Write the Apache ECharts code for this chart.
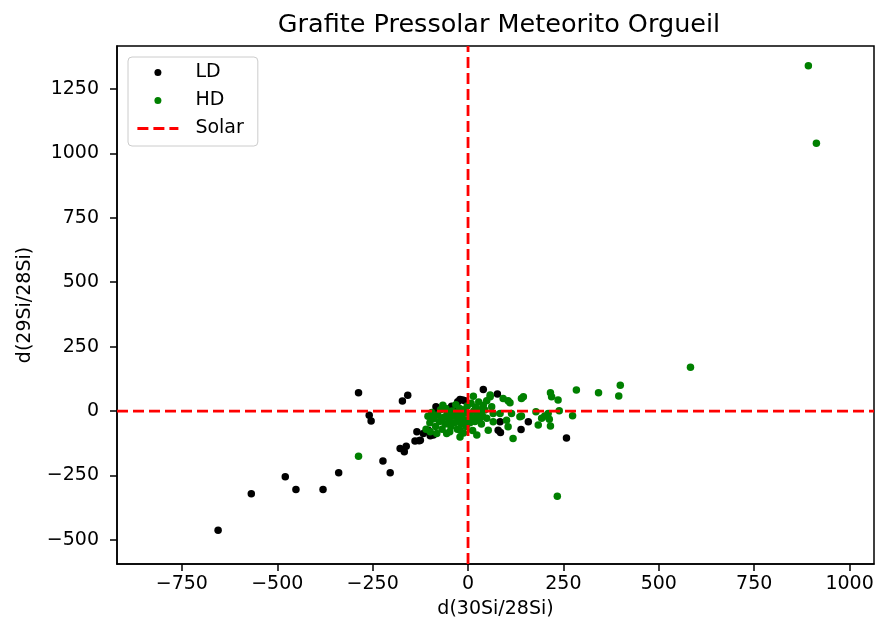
<!DOCTYPE html>
<html>
<head>
<meta charset="utf-8">
<script src="https://cdn.jsdelivr.net/npm/echarts@6/dist/echarts.min.js"></script>
<style>
  html, body { margin: 0; padding: 0; background: #fff; }
  #main { width: 878px; height: 626px; }
</style>
</head>
<body>
<div id="main"></div>
<script>
// dados: [d(30Si/28Si), d(29Si/28Si)]
let ld_data = [
  [-655, -462], [-568, -321], [-479, -255], [-451, -304], [-380, -304],
  [-339, -239], [-287, 71], [-259, -16], [-254, -38], [-223, -194],
  [-204, -239], [-178, -145], [-167, -158], [-162, -136], [-172, 39],
  [-158, 61], [-139, -116], [-128, -115], [-134, -80], [-125, -113],
  [-99, -96], [-91, -93], [-117, -87], [-104, -74], [-84, 17],
  [-82, 4], [-43, 19], [-38, 17], [-27, 36], [-21, 45],
  [-14, 43], [-8, 40], [40, 84], [77, 66], [84, -41],
  [85, -83], [79, -74], [139, -71], [158, -41], [258, -104]
];
let hd_data = [
  [-287, -175], [892, 1339], [913, 1039], [583, 170], [399, 100],
  [395, 59], [342, 71], [284, 82], [216, 71], [219, 56],
  [236, 43], [145, 56], [140, 49], [239, 1], [274, -18],
  [234, -330], [178, -3], [184, -54], [213, -32], [216, -58],
  [210, -9], [201, -19], [193, -28], [140, -19], [136, -22],
  [118, -106], [105, -61], [101, -35], [114, -9], [84, -9],
  [66, -9], [66, -41], [49, -28], [53, -74], [92, 49],
  [105, 40], [110, 32], [58, 56], [58, 62], [14, 58],
  [49, 40], [40, 23], [62, 17], [44, 4], [-66, 23],
  [-105, -20], [-100, -45], [-95, -5], [-90, -30], [-85, -60],
  [-80, -15], [-75, -40], [-72, 5], [-68, -70], [-65, -25],
  [-60, -50], [-58, 10], [-55, -10], [-50, -35], [-48, -80],
  [-45, -60], [-42, 0], [-40, -20], [-35, -45], [-32, 25],
  [-30, -5], [-28, -70], [-25, -30], [-22, 10], [-18, -50],
  [-15, -15], [-12, -85], [-10, 5], [-8, -35], [-5, -60],
  [-2, 20], [2, -10], [5, -45], [8, 30], [10, -25],
  [12, -75], [15, 0], [18, -40], [20, 15], [25, -15],
  [28, 35], [30, -30], [32, 5], [35, -50], [38, -20],
  [-99, -80], [-56, -87], [-21, -74], [-21, -100], [23, -93],
  [-82, -87], [-110, -70]
];
let solar = [0, 0]; // valor solar (x, y)
let x_ticks = [-750, -500, -250, 0, 250, 500, 750, 1000];
let y_ticks = [-500, -250, 0, 250, 500, 750, 1000, 1250];
let x_range = [-920, 1064];
let y_range = [-593, 1416];

let myChart = echarts.init(document.getElementById("main"));
let font = "DejaVu Sans";
let red_line = { color: "#ff0000", width: 2.8, type: [11, 5] };

var option = {
  animation: false,
  backgroundColor: "#fff",
  title: {
    text: "Grafite Pressolar Meteorito Orgueil",
    left: 494,
    textAlign: "center",
    top: 7,
    textStyle: { fontFamily: font, fontSize: 25.5, fontWeight: "normal", color: "#000" },
  },
  legend: {
    orient: "vertical",
    left: 128,
    top: 57,
    padding: [6, 14, 8, 8],
    itemWidth: 41,
    itemHeight: 7,
    itemGap: 9,
    borderColor: "#cccccc",
    borderWidth: 1,
    borderRadius: 4,
    backgroundColor: "#fff",
    textStyle: { fontFamily: font, fontSize: 19, color: "#000", padding: [0, 0, 0, 12] },
    data: [
      { name: "LD", icon: "circle" },
      { name: "HD", icon: "circle" },
      { name: "Solar", itemStyle: { opacity: 0 }, lineStyle: red_line },
    ],
  },
  grid: {
    left: 117,
    right: 4,
    top: 46,
    bottom: 62,
    show: true,
    borderColor: "#000",
    borderWidth: 1.5,
    backgroundColor: "transparent",
  },
  xAxis: {
    type: "value",
    min: x_range[0],
    max: x_range[1],
    name: "d(30Si/28Si)",
    nameLocation: "middle",
    nameGap: 36,
    nameTextStyle: { fontFamily: font, fontSize: 19, color: "#000" },
    axisLine: { show: true, onZero: false, lineStyle: { color: "#000", width: 1.5 } },
    axisTick: { show: true, length: 7, customValues: x_ticks, lineStyle: { color: "#000", width: 1.5 } },
    axisLabel: { customValues: x_ticks, fontFamily: font, fontSize: 19, color: "#000", margin: 11,
      formatter: (v) => String(v).replace("-", "\u2212") },
    splitLine: { show: false },
  },
  yAxis: {
    type: "value",
    min: y_range[0],
    max: y_range[1],
    name: "d(29Si/28Si)",
    nameLocation: "middle",
    nameGap: 82,
    nameTextStyle: { fontFamily: font, fontSize: 19, color: "#000" },
    axisLine: { show: true, onZero: false, lineStyle: { color: "#000", width: 1.5 } },
    axisTick: { show: true, length: 7, customValues: y_ticks, lineStyle: { color: "#000", width: 1.5 } },
    axisLabel: { customValues: y_ticks, fontFamily: font, fontSize: 19, color: "#000", margin: 18,
      formatter: (v) => String(v).replace("-", "\u2212") },
    splitLine: { show: false },
  },
  series: [
    {
      name: "LD",
      type: "scatter",
      symbolSize: 7.5,
      itemStyle: { color: "#000000", opacity: 1 },
      data: ld_data,
      z: 2,
    },
    {
      name: "HD",
      type: "scatter",
      symbolSize: 7.5,
      itemStyle: { color: "#008000", opacity: 1 },
      data: hd_data,
      z: 3,
    },
    {
      name: "Solar",
      type: "line",
      symbol: "none",
      silent: true,
      lineStyle: red_line,
      itemStyle: { color: "#ff0000" },
      data: [[x_range[0], solar[1]], [x_range[1], solar[1]]],
      z: 4,
    },
    {
      name: "Solar",
      type: "line",
      symbol: "none",
      silent: true,
      lineStyle: red_line,
      itemStyle: { color: "#ff0000" },
      data: [[solar[0], y_range[0]], [solar[0], y_range[1]]],
      z: 4,
    },
  ],
};

myChart.setOption(option);
</script>
</body>
</html>
